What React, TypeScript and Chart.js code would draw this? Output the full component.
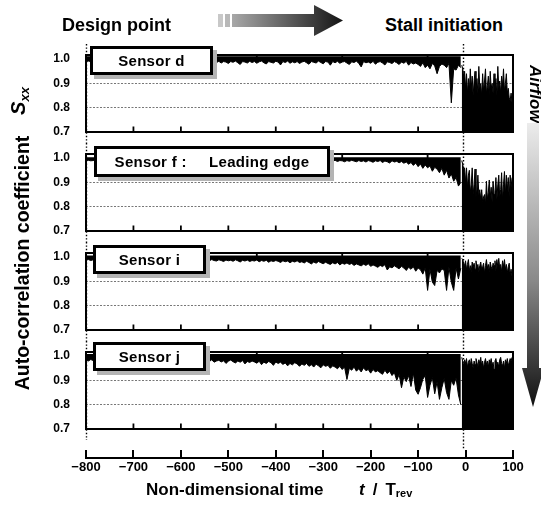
import React, { useEffect, useRef } from "react";
import { Chart, registerables } from "chart.js";
Chart.register(...registerables);

const FONT = "'Liberation Sans', Arial, Helvetica, sans-serif";

// ---- axes ----
const X_MIN = -800;
const X_MAX = 100;
const Y_MIN = 0.7;
const Y_MAX = 1.017;
const yTicks = [0.7, 0.8, 0.9, 1.0];
const gridValues = [0.8, 0.9];
const xTicks = [-800, -700, -600, -500, -400, -300, -200, -100, 0, 100];
const topTicks = [-800, -620, -440, -260, -80, 100];
const dottedTimes = [-800, -6];
const stallMark = -6;

// ---- sampling of the signals ----
const PRE_START = -800;
const PRE_STEP = 5;
const STALL_START = -8;
const STALL_STEP = 2;

const sensorLabels = ["Sensor d", "Sensor f :     Leading edge", "Sensor i", "Sensor j"];
const bandTop = [1.012, 1.004, 1.007, 1.009];

// Sensor d : lower envelope before stall (t = -800 ... -10)
const lowD = [
  .99,.992,.99,.988,.99,.991,.99,.989,.992,.99,
  .988,.99,.991,.99,.99,.989,.992,.99,.99,.988,
  .99,.991,.99,.99,.989,.992,.99,.988,.99,.991,
  .99,.99,.989,.992,.99,.988,.99,.991,.99,.99,
  .989,.992,.99,.988,.99,.991,.99,.99,.989,
  .99,.985,.992,.988,.98,.99,.986,.991,.984,.99,
  .988,.982,.99,.987,.992,.985,.978,.99,.988,.984,
  .991,.986,.99,.983,.989,.992,.985,.98,.99,.987,
  .984,.991,.988,.976,.99,.986,.992,.983,.989,.985,
  .99,.982,.988,.991,.985,.979,.99,.987,.984,.992,
  .986,.981,.99,.988,.975,.99,.985,.991,.983,.988,
  .99,.984,.978,.989,.986,.992,.982,.968,.99,.985,
  .988,.983,.991,.979,.987,.99,.984,.976,.989,.986,
  .982,.99,.985,.978,.988,.983,.991,.975,.986,.98,
  .984,.978,.97,.985,.965,.975,.96,.982,.972,.94,
  .97,.98,.975,.965,.982,.82,.96,.955,.975,.965,
];
// Sensor d : upper envelope during stall (t = -8 ... 98)
const highD = [
  .975,.96,.93,.95,.88,.94,.86,.92,.87,.96,
  .88,.93,.85,.91,.95,.87,.92,.86,.97,.88,
  .90,.85,.94,.87,.91,.96,.86,.89,.93,.85,
  .95,.88,.90,.86,.94,.87,.92,.85,.97,.88,
  .91,.86,.93,.89,.96,.87,.90,.94,.86,.88,
  .84,.83,.86,.82,
];

const lowF = [
  .99,.991,.989,.99,.992,.99,.988,.99,.991,.99,
  .989,.99,.992,.99,.988,.991,.99,.989,.99,.992,
  .99,.988,.99,.991,.99,.989,.992,.99,.99,.988,
  .991,.99,.989,.992,.99,.988,.99,.991,.99,.99,
  .989,.992,.99,.988,.99,.991,.99,.989,.99,.992,
  .99,.988,.991,.99,.989,.99,.992,.99,.988,.99,
  .991,.99,.989,.992,.99,.988,.99,.991,.99,.989,
  .99,.992,.99,.988,.991,.99,.989,.99,.992,.99,
  .988,.99,.991,.99,.989,.992,.99,.988,.99,.991,
  .99,.989,.992,.99,.988,.99,.991,.99,.989,.99,
  .992,.99,.988,
  .99,.988,.991,.986,.99,.989,.985,.99,.987,.991,
  .988,.985,.99,.986,.989,.984,.99,.987,.983,.989,
  .986,.99,.982,.988,.985,.98,.989,.984,.987,.981,
  .986,.979,.984,.975,.982,.97,.98,.965,.976,.958,
  .972,.96,.968,.946,.962,.955,.94,.958,.93,.95,
  .918,.935,.905,.92,.885,.90,
];
const highF = [
  .99,.975,.95,.96,.90,.96,.88,.93,.95,.86,
  .89,.96,.85,.89,.955,.84,.87,.93,.85,.87,
  .83,.87,.82,.84,.85,.81,.905,.83,.86,.91,
  .84,.88,.82,.905,.85,.86,.92,.83,.89,.93,
  .84,.87,.94,.83,.89,.945,.85,.93,.87,.92,
  .84,.93,.88,.92,
];

const lowI = [
  .988,.99,.986,.989,.987,.99,.985,.988,.99,.987,
  .989,.986,.99,.988,.985,.989,.987,.99,.986,.988,
  .99,.987,.985,.989,.988,.99,.986,.987,.989,.985,
  .988,.99,.987,.986,.989,.988,.985,.99,.987,.989,
  .986,.988,.99,.985,.987,.989,.988,.986,.99,.987,
  .989,
  .988,.985,.99,.986,.984,.989,.986,.982,.988,.985,
  .987,.983,.989,.985,.98,.987,.984,.988,.982,.986,
  .984,.988,.981,.986,.983,.987,.979,.985,.982,.986,
  .983,.978,.985,.981,.984,.977,.983,.98,.985,.978,
  .981,.976,.983,.978,.972,.98,.975,.982,.977,.973,
  .979,.974,.97,.977,.972,.978,.968,.975,.971,.976,
  .97,.974,.966,.972,.968,.964,.971,.966,.973,.962,
  .968,.963,.958,.966,.961,.969,.947,.96,.956,.964,
  .958,.952,.962,.955,.945,.958,.95,.96,.942,.955,
  .948,.93,.956,.863,.95,.897,.883,.945,.935,.952,
  .945,.863,.958,.897,.863,.955,.91,.955,
];
const highI = [
  .995,.99,.975,.965,.985,.95,.97,.99,.945,.965,
  .94,.98,.96,.975,.95,.985,.955,.97,.94,.965,
  .98,.95,.96,.975,.935,.965,.99,.955,.97,.94,
  .98,.96,.95,.975,.965,.985,.945,.99,.96,.995,
  .955,.97,.94,.985,.96,.99,.95,.97,.935,.96,
  .975,.93,.95,.92,
];

const lowJ = [
  .984,.98,.986,.982,.985,.979,.983,.986,.981,.984,
  .978,.985,.982,.98,.986,.983,.979,.984,.981,.985,
  .98,.983,.986,.978,.984,.982,.985,.98,.983,.979,
  .986,.981,.984,.98,.985,.982,.978,.984,.983,.98,
  .986,.981,.979,.985,.982,.984,.98,.983,.986,.981,
  .979,
  .982,.978,.985,.975,.98,.983,.976,.981,.97,.979,
  .984,.977,.972,.98,.975,.982,.968,.978,.974,.98,
  .976,.971,.979,.965,.975,.97,.978,.973,.962,.976,
  .97,.975,.966,.972,.96,.97,.964,.973,.968,.958,
  .968,.962,.97,.958,.965,.955,.967,.96,.952,.964,
  .958,.962,.95,.96,.955,.948,.958,.945,.955,.904,
  .95,.942,.955,.938,.948,.935,.952,.94,.945,.93,
  .945,.935,.94,.932,.925,.942,.928,.938,.92,.932,
  .90,.925,.87,.915,.895,.92,.875,.93,.86,.843,
  .87,.905,.92,.83,.88,.912,.845,.895,.822,.87,
  .908,.85,.822,.90,.88,.91,.84,.80,
];
const highJ = [
  .995,.98,.96,.985,.97,.99,.955,.975,.985,.96,
  .99,.97,.95,.98,.965,.99,.975,.955,.985,.97,
  .995,.96,.98,.95,.975,.99,.965,.98,.955,.985,
  .97,.99,.96,.975,.945,.98,.99,.965,.975,.955,
  .985,.995,.97,.96,.98,.95,.985,.97,.99,.96,
  .975,.99,.98,.995,
];

const lows = [lowD, lowF, lowI, lowJ];
const highs = [highD, highF, highI, highJ];

// ---- layout (pixels) ----
const W = 541;
const PANEL_TOPS = [55, 154, 253, 352];
const PANEL_H = 77;
const PAD = 11;
const CANVAS_H = PANEL_H + 2 * PAD;
const AREA_LEFT = 86;
const AREA_RIGHT_PAD = 28;
const BOX = [
  { left: 90, top: 46, w: 123, h: 29 },
  { left: 94, top: 146, w: 236, h: 31 },
  { left: 93, top: 245, w: 113, h: 29 },
  { left: 93, top: 342, w: 113, h: 29 },
];

const panelDecor = {
  id: "panelDecor",
  beforeDatasetsDraw(chart: any) {
    const { ctx, scales } = chart;
    const x = scales.x;
    ctx.save();
    ctx.strokeStyle = "#000";
    ctx.lineWidth = 1.4;
    ctx.setLineDash([1.4, 2]);
    for (const t of dottedTimes) {
      const px = Math.round(x.getPixelForValue(t)) + 0.5;
      ctx.beginPath();
      ctx.moveTo(px, 0);
      ctx.lineTo(px, chart.height);
      ctx.stroke();
    }
    ctx.restore();
  },
  afterDatasetsDraw(chart: any) {
    const { ctx, chartArea: a, scales } = chart;
    const x = scales.x;
    ctx.save();
    ctx.strokeStyle = "#000";
    ctx.lineWidth = 2;
    ctx.setLineDash([]);
    ctx.strokeRect(a.left, a.top, a.right - a.left, a.bottom - a.top);
    ctx.lineWidth = 1.8;
    for (const t of xTicks) {
      const px = x.getPixelForValue(t);
      ctx.beginPath();
      ctx.moveTo(px, a.bottom);
      ctx.lineTo(px, a.bottom - 5.5);
      ctx.stroke();
    }
    for (const t of topTicks) {
      const px = x.getPixelForValue(t);
      ctx.beginPath();
      ctx.moveTo(px, a.top);
      ctx.lineTo(px, a.top + 4);
      ctx.stroke();
    }
    ctx.restore();
  },
};

function Panel({ k }: { k: number }) {
  const ref = useRef<HTMLCanvasElement>(null);
  useEffect(() => {
    const pre = lows[k].map((v, i) => ({ x: PRE_START + i * PRE_STEP, y: v }));
    const stall = highs[k].map((v, i) => ({ x: STALL_START + i * STALL_STEP, y: v }));
    const chart = new Chart(ref.current as HTMLCanvasElement, {
      type: "line",
      data: {
        datasets: [
          {
            data: pre,
            borderColor: "#000",
            backgroundColor: "#000",
            borderWidth: 1,
            borderJoinStyle: "round",
            pointRadius: 0,
            fill: { value: bandTop[k] },
          } as any,
          {
            data: stall,
            borderColor: "#000",
            backgroundColor: "#000",
            borderWidth: 1,
            borderJoinStyle: "round",
            pointRadius: 0,
            fill: "start",
          } as any,
        ],
      },
      options: {
        animation: false,
        responsive: false,
        maintainAspectRatio: false,
        devicePixelRatio: 1,
        events: [],
        layout: { autoPadding: false, padding: { left: 0, right: AREA_RIGHT_PAD, top: PAD, bottom: PAD } },
        plugins: { legend: { display: false }, tooltip: { enabled: false } },
        scales: {
          x: { type: "linear", min: X_MIN, max: X_MAX, display: false },
          y: {
            type: "linear",
            min: Y_MIN,
            max: Y_MAX,
            afterBuildTicks: (s: any) => {
              s.ticks = yTicks.map((v) => ({ value: v }));
            },
            afterFit: (s: any) => {
              s.width = AREA_LEFT;
              s.paddingTop = 0;
              s.paddingBottom = 0;
            },
            ticks: {
              callback: (v: any) => Number(v).toFixed(1),
              color: "#000",
              padding: 16,
              font: { family: FONT, size: 12, weight: "bold" },
            },
            grid: {
              drawTicks: false,
              lineWidth: 1,
              color: (c: any) =>
                c.tick && gridValues.some((g) => Math.abs(g - c.tick.value) < 1e-6)
                  ? "#777"
                  : "rgba(0,0,0,0)",
            },
            border: { display: false, dash: [2, 1.5] },
          },
        },
      } as any,
      plugins: [panelDecor],
    });
    return () => chart.destroy();
  }, [k]);
  return (
    <canvas
      ref={ref}
      width={W}
      height={CANVAS_H}
      style={{ position: "absolute", left: 0, top: PANEL_TOPS[k] - PAD, width: W, height: CANVAS_H, display: "block" }}
    />
  );
}

const BOTTOM_TOP = PANEL_TOPS[3] + PANEL_H + PAD; // 440
const BOTTOM_H = 509 - BOTTOM_TOP;

const bottomDecor = {
  id: "bottomDecor",
  beforeDraw(chart: any) {
    const { ctx, chartArea: a, scales } = chart;
    const px = Math.round(scales.x.getPixelForValue(stallMark)) + 0.5;
    ctx.save();
    ctx.strokeStyle = "#000";
    ctx.lineWidth = 1.4;
    ctx.setLineDash([1.4, 2]);
    ctx.beginPath();
    ctx.moveTo(px, 0);
    ctx.lineTo(px, a.top - 1);
    ctx.stroke();
    ctx.restore();
  },
};

function BottomAxis() {
  const ref = useRef<HTMLCanvasElement>(null);
  useEffect(() => {
    const chart = new Chart(ref.current as HTMLCanvasElement, {
      type: "line",
      data: { datasets: [] },
      options: {
        animation: false,
        responsive: false,
        maintainAspectRatio: false,
        devicePixelRatio: 1,
        events: [],
        layout: { autoPadding: false, padding: { left: AREA_LEFT, right: AREA_RIGHT_PAD, top: 10, bottom: 0 } },
        plugins: { legend: { display: false }, tooltip: { enabled: false } },
        scales: {
          x: {
            type: "linear",
            min: X_MIN,
            max: X_MAX,
            position: "bottom",
            afterBuildTicks: (s: any) => {
              s.ticks = xTicks.map((v) => ({ value: v }));
            },
            afterFit: (s: any) => {
              s.height = BOTTOM_H - 10 - 8;
              s.paddingLeft = 0;
              s.paddingRight = 0;
            },
            ticks: {
              autoSkip: false,
              maxRotation: 0,
              padding: 2,
              color: "#000",
              font: { family: FONT, size: 13, weight: "bold" },
              callback: (v: any) => {
                const n = Number(v);
                return n < 0 ? "\u2212" + Math.abs(n) : String(n);
              },
            },
            grid: { drawTicks: false, drawOnChartArea: true, color: "#000", lineWidth: 2 },
            border: { display: true, color: "#000", width: 2 },
          },
          y: { type: "linear", min: 0, max: 1, display: false },
        },
      } as any,
      plugins: [bottomDecor],
    });
    return () => chart.destroy();
  }, []);
  return (
    <canvas
      ref={ref}
      width={W}
      height={BOTTOM_H}
      style={{ position: "absolute", left: 0, top: BOTTOM_TOP, width: W, height: BOTTOM_H, display: "block" }}
    />
  );
}

const txt: React.CSSProperties = {
  position: "absolute",
  fontFamily: FONT,
  fontWeight: "bold",
  color: "#000",
  whiteSpace: "pre",
};

export default function App() {
  return (
    <div
      style={{
        position: "absolute",
        left: 0,
        top: 0,
        width: W,
        height: 509,
        background: "#fff",
        overflow: "hidden",
      }}
    >
      {[0, 1, 2, 3].map((k) => (
        <Panel key={k} k={k} />
      ))}
      <BottomAxis />

      {BOX.map((b, k) => (
        <div
          key={"box" + k}
          style={{
            position: "absolute",
            left: b.left,
            top: b.top,
            width: b.w,
            height: b.h,
            boxSizing: "border-box",
            border: "3px solid #000",
            background: "#fff",
            boxShadow: "4px 4px 0 #b4b4b4",
            display: "flex",
            alignItems: "center",
            justifyContent: "center",
            fontFamily: FONT,
            fontWeight: "bold",
            fontSize: 15,
            whiteSpace: "pre",
            letterSpacing: 0.3,
          }}
        >
          {sensorLabels[k]}
        </div>
      ))}

      <div style={{ ...txt, left: 62, top: 16, fontSize: 18, lineHeight: "18px" }}>Design point</div>
      <div style={{ ...txt, left: 385, top: 16, fontSize: 18, lineHeight: "18px" }}>Stall initiation</div>

      <svg style={{ position: "absolute", left: 215, top: 0 }} width={135} height={40}>
        <defs>
          <linearGradient id="gh" gradientUnits="userSpaceOnUse" x1={17} y1={0} x2={128} y2={0}>
            <stop offset="0" stopColor="#a8a8a8" />
            <stop offset="1" stopColor="#141414" />
          </linearGradient>
        </defs>
        <rect x={3} y={14} width={5} height={13} fill="#c8c8c8" />
        <rect x={10} y={14} width={5} height={13} fill="#b8b8b8" />
        <rect x={17} y={14} width={83} height={13} fill="url(#gh)" />
        <polygon points="99,5 128,20.5 99,36" fill="url(#gh)" />
      </svg>

      <div
        style={{
          ...txt,
          left: 527,
          top: 65,
          fontSize: 17,
          lineHeight: "17px",
          fontStyle: "italic",
          writingMode: "vertical-rl",
        }}
      >
        Airflow
      </div>
      <svg style={{ position: "absolute", left: 518, top: 118 }} width={30} height={292}>
        <defs>
          <linearGradient id="gv" gradientUnits="userSpaceOnUse" x1={0} y1={5} x2={0} y2={289}>
            <stop offset="0" stopColor="#ececec" />
            <stop offset="0.55" stopColor="#8a8a8a" />
            <stop offset="1" stopColor="#101010" />
          </linearGradient>
        </defs>
        <rect x={9} y={5} width={12} height={247} fill="url(#gv)" />
        <polygon points="4,250 26,250 15,289" fill="url(#gv)" />
      </svg>

      <div
        style={{
          ...txt,
          left: 21.5,
          top: 263,
          fontSize: 19.5,
          lineHeight: "19px",
          transform: "translate(-50%, -50%) rotate(-90deg)",
        }}
      >
        Auto-correlation coefficient
      </div>
      <div
        style={{
          ...txt,
          left: 21,
          top: 101,
          fontSize: 20,
          lineHeight: "20px",
          transform: "translate(-50%, -50%) rotate(-90deg)",
        }}
      >
        <span style={{ fontStyle: "italic" }}>S</span>
        <span style={{ fontStyle: "italic", fontSize: 13, verticalAlign: "-4px" }}>xx</span>
      </div>

      <div style={{ ...txt, left: 146, top: 481, fontSize: 17, lineHeight: "17px" }}>Non-dimensional time</div>
      <div style={{ ...txt, left: 359, top: 481, fontSize: 17, lineHeight: "17px" }}>
        <span style={{ fontStyle: "italic" }}>t</span>
        <span style={{ marginLeft: 8 }}>/</span>
        <span style={{ marginLeft: 8 }}>T</span>
        <span style={{ fontSize: 11, verticalAlign: "-2px" }}>rev</span>
      </div>
    </div>
  );
}
